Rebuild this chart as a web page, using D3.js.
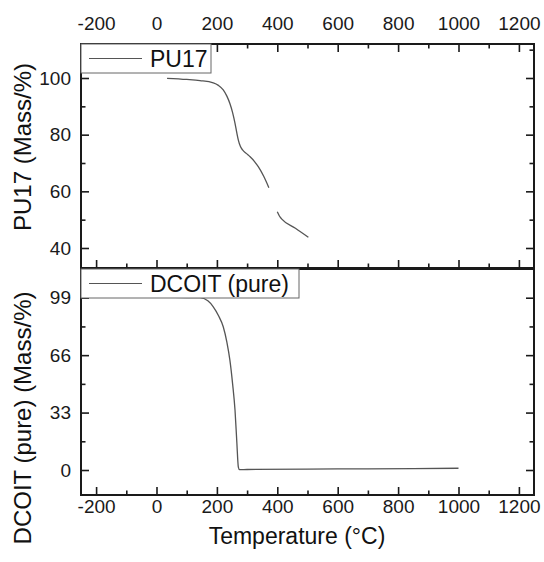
<!DOCTYPE html>
<html>
<head>
<meta charset="utf-8">
<script src="https://cdn.jsdelivr.net/npm/d3@7"></script>
<style>
  body { margin: 0; background: #fff; }
  svg { display: block; font-family: "Liberation Sans", Arial, sans-serif; }
  .tick text { fill: #1a1a1a; }
</style>
</head>
<body>
<div id="container"></div>
<script>
const width = 544;
const height = 562;

// ---- data ----
const puTemp = [35, 100, 144, 188, 205, 221, 233, 243, 252, 260, 266, 271, 278, 285, 297, 310, 324, 337, 355, 372, null, 400, 407, 415, 460, 503];
const puMass = [99.9, 99.5, 99.1, 98.3, 97.4, 95.8, 93.6, 91.0, 87.8, 84.0, 80.6, 78.1, 75.8, 74.6, 73.4, 72.2, 70.6, 68.7, 65.3, 61.3, null, 52.8, 51.3, 50.2, 47.0, 43.8];

const dcTemp = [30, 100, 144, 170, 188, 205, 221, 233, 243, 252, 260, 266, 271, 275, 300, 500, 700, 1000];
const dcMass = [99.2, 99.1, 99.0, 97.2, 93.8, 88.8, 82.3, 73.5, 63.1, 49.5, 34.3, 16.0, 1.7, 0.2, 0.3, 0.5, 0.7, 1.0];

const xTicks = [-200, 0, 200, 400, 600, 800, 1000, 1200];
const xMinor = [-100, 100, 300, 500, 700, 900, 1100];
const puTicks = [40, 60, 80, 100];
const puMinor = [50, 70, 90, 110];
const dcTicks = [0, 33, 66, 99];
const dcMinor = [16.5, 49.5, 82.5];

const svg = d3.select("#container").append("svg")
  .attr("width", width)
  .attr("height", height);

//----------------------------SCALES----------------------------//
const x = d3.scaleLinear().domain([-250, 1250]).range([81, 534]);
const yTop = d3.scaleLinear().domain([32.94, 112]).range([268, 44]);
const yBot = d3.scaleLinear().domain([-14.36, 115.5]).range([495, 269]);

const major = 8, minor = 4.5, fs = 19;
const plain = d => String(d);

function styleAxis(g) {
  g.select(".domain").remove();
  g.selectAll(".tick line").attr("stroke", "#1a1a1a").attr("stroke-width", 1.6);
  g.selectAll(".tick text").attr("font-size", fs);
  g.attr("font-family", null);
}

function panel(y, ticks, minors, showTop, showBottom) {
  const inside = minors.filter(v => y(v) > y.range()[1] + 1);
  // left axis
  svg.append("g").attr("transform", "translate(81,0)")
    .call(d3.axisLeft(y).tickValues(ticks).tickSize(-major).tickPadding(10).tickFormat(plain))
    .call(styleAxis);
  svg.append("g").attr("transform", "translate(81,0)")
    .call(d3.axisLeft(y).tickValues(inside).tickSize(-minor).tickFormat(""))
    .call(styleAxis);
  // right axis
  svg.append("g").attr("transform", "translate(534,0)")
    .call(d3.axisRight(y).tickValues(ticks).tickSize(-major).tickFormat(""))
    .call(styleAxis);
  svg.append("g").attr("transform", "translate(534,0)")
    .call(d3.axisRight(y).tickValues(inside).tickSize(-minor).tickFormat(""))
    .call(styleAxis);
  const [y0, y1] = y.range();
  if (showTop) {
    svg.append("g").attr("transform", `translate(0,${y1})`)
      .call(d3.axisTop(x).tickValues(xTicks).tickSize(-major).tickPadding(14).tickFormat(plain))
      .call(styleAxis);
    svg.append("g").attr("transform", `translate(0,${y1})`)
      .call(d3.axisTop(x).tickValues(xMinor).tickSize(-minor).tickFormat(""))
      .call(styleAxis);
  }
  svg.append("g").attr("transform", `translate(0,${y0})`)
    .call(d3.axisBottom(x).tickValues(xTicks).tickSize(-major).tickPadding(5)
      .tickFormat(showBottom ? plain : ""))
    .call(styleAxis);
  svg.append("g").attr("transform", `translate(0,${y0})`)
    .call(d3.axisBottom(x).tickValues(xMinor).tickSize(-minor).tickFormat(""))
    .call(styleAxis);
}

panel(yTop, puTicks, puMinor, true, false);
panel(yBot, dcTicks, dcMinor, false, true);

//----------------------------LINES-----------------------------//
const lineTop = d3.line()
  .defined((d, i) => puMass[i] !== null)
  .x((d, i) => x(puTemp[i]))
  .y((d, i) => yTop(puMass[i]))
  .curve(d3.curveMonotoneX);

const lineBot = d3.line()
  .x((d, i) => x(dcTemp[i]))
  .y((d, i) => yBot(dcMass[i]))
  .curve(d3.curveMonotoneX);

svg.append("path").attr("d", lineTop(puTemp))
  .attr("fill", "none").attr("stroke", "#555").attr("stroke-width", 1.3);
svg.append("path").attr("d", lineBot(dcTemp))
  .attr("fill", "none").attr("stroke", "#555").attr("stroke-width", 1.3);

//----------------------------FRAMES----------------------------//
[yTop, yBot].forEach(y => {
  const [y0, y1] = y.range();
  svg.append("rect")
    .attr("x", 81).attr("y", y1)
    .attr("width", 534 - 81).attr("height", y0 - y1)
    .attr("fill", "none").attr("stroke", "#1a1a1a").attr("stroke-width", 2);
});

//----------------------------LEGENDS---------------------------//
function legend(y, label, boxW) {
  const top = y.range()[1];
  const g = svg.append("g");
  g.append("rect").attr("x", 81).attr("y", top).attr("width", boxW).attr("height", 29)
    .attr("fill", "#fff").attr("stroke", "#666").attr("stroke-width", 1);
  g.append("line").attr("x1", 89).attr("x2", 142).attr("y1", top + 14.5).attr("y2", top + 14.5)
    .attr("stroke", "#555").attr("stroke-width", 1.2);
  g.append("text").attr("x", 150).attr("y", top + 23).attr("font-size", 23)
    .attr("fill", "#111").text(label);
}
legend(yTop, "PU17", 130);
legend(yBot, "DCOIT (pure)", 218);

//----------------------------TITLES----------------------------//
svg.append("text")
  .attr("transform", "translate(31,147) rotate(-90)")
  .attr("text-anchor", "middle").attr("font-size", 24).attr("fill", "#111")
  .text("PU17 (Mass/%)");
svg.append("text")
  .attr("transform", "translate(31,418) rotate(-90)")
  .attr("text-anchor", "middle").attr("font-size", 24).attr("fill", "#111")
  .text("DCOIT (pure) (Mass/%)");
svg.append("text")
  .attr("x", 297).attr("y", 544)
  .attr("text-anchor", "middle").attr("font-size", 23).attr("fill", "#111")
  .text("Temperature (°C)");
</script>
</body>
</html>
